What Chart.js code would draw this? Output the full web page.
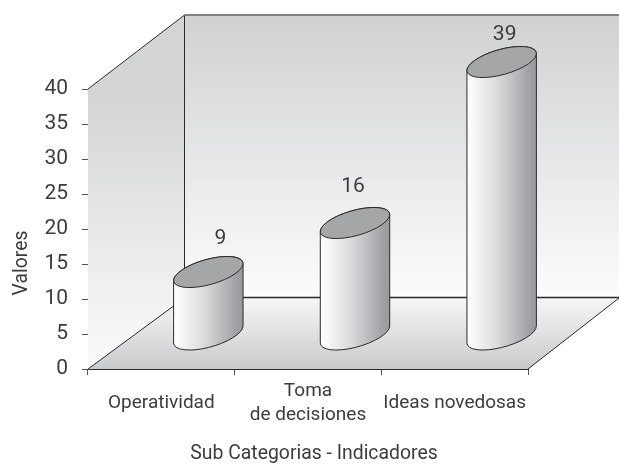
<!DOCTYPE html>
<html><head><meta charset="utf-8">
<style>html,body{margin:0;padding:0;background:#fff}canvas{display:block}</style>
<script src="https://cdn.jsdelivr.net/npm/chart.js@4/dist/chart.umd.js"></script>
</head><body><canvas id="c" width="619" height="464"></canvas>
<script>
const categories = ["Operatividad", ["Toma", "de decisiones"], "Ideas novedosas"];
const values = [9, 16, 39];
const yTicks = [0, 5, 10, 15, 20, 25, 30, 35, 40];
const xTitle = "Sub Categorias - Indicadores";
const yTitle = "Valores";

const FONT = 'Roboto,"Liberation Sans",Arial,sans-serif';
const TXT = '#3c3c3e';
const LINE = '#2a2a2c';

const scene3d = {
  id: 'scene3d',
  beforeDatasetsDraw(chart) {
    const c = chart.ctx, a = chart.chartArea, W = chart.width;
    const bx = a.left + 96.5, topY = 15, floorY = 298;
    c.save();
    let g = c.createLinearGradient(0, topY, 0, floorY);
    g.addColorStop(0, '#d0d1d3'); g.addColorStop(1, '#fcfcfc');
    c.fillStyle = g;
    c.fillRect(bx, topY, W - bx, floorY - topY);
    g = c.createLinearGradient(0, a.top, 0, a.bottom);
    g.addColorStop(0, '#d3d4d6'); g.addColorStop(1, '#fbfbfb');
    c.fillStyle = g;
    c.beginPath(); c.moveTo(a.left, a.top); c.lineTo(bx, topY); c.lineTo(bx, floorY); c.lineTo(a.left, a.bottom); c.closePath(); c.fill();
    g = c.createLinearGradient(0, floorY, 0, a.bottom);
    g.addColorStop(0, '#f7f7f7'); g.addColorStop(1, '#c9cacc');
    c.fillStyle = g;
    c.beginPath(); c.moveTo(a.left, a.bottom); c.lineTo(bx, floorY); c.lineTo(W, floorY); c.lineTo(a.right, a.bottom); c.closePath(); c.fill();
    c.strokeStyle = LINE; c.lineWidth = 1;
    c.beginPath();
    c.moveTo(a.left, a.top); c.lineTo(bx, topY);
    c.moveTo(bx, topY); c.lineTo(bx, floorY);
    c.moveTo(a.left, a.bottom); c.lineTo(bx, floorY);
    c.moveTo(a.right, a.bottom); c.lineTo(W, floorY);
    c.stroke();
    c.lineWidth = 1.5;
    c.beginPath(); c.moveTo(bx, floorY - 0.5); c.lineTo(W, floorY - 0.5); c.stroke();
    c.strokeStyle = '#808082'; c.lineWidth = 2;
    c.beginPath(); c.moveTo(bx, topY); c.lineTo(W, topY); c.stroke();
    c.restore();
  },
  afterDatasetsDraw(chart) {
    const c = chart.ctx, bars = chart.getDatasetMeta(0).data;
    const shiftX = 47, shiftY = -34, phi = -15.7 * Math.PI / 180;
    const nudge = [[12, -33], [-2, -36], [3, -27]];
    c.save();
    bars.forEach((bar, i) => {
      const w = bar.width, cx = bar.x + shiftX, ra = w * 0.513, rb = w * 0.18;
      const yT = bar.y + shiftY, yB = bar.base + shiftY;
      const t0 = Math.atan2(-rb * Math.sin(phi), ra * Math.cos(phi));
      const g = c.createLinearGradient(cx - w / 2, 0, cx + w / 2, 0);
      g.addColorStop(0, '#ffffff'); g.addColorStop(0.12, '#f6f6f7');
      g.addColorStop(0.45, '#d9dadc'); g.addColorStop(0.9, '#a0a1a4'); g.addColorStop(1, '#98999c');
      c.beginPath();
      c.ellipse(cx, yB, ra, rb, phi, t0, t0 + Math.PI, false);
      c.ellipse(cx, yT, ra, rb, phi, t0 + Math.PI, t0 + 2 * Math.PI, false);
      c.closePath();
      c.fillStyle = g; c.fill();
      c.strokeStyle = LINE; c.lineWidth = 1; c.stroke();
      c.beginPath();
      c.ellipse(cx, yT, ra, rb, phi, 0, 2 * Math.PI);
      c.fillStyle = '#a5a6a8'; c.fill(); c.stroke();
      c.fillStyle = TXT; c.font = '21px ' + FONT;
      c.textAlign = 'center'; c.textBaseline = 'middle';
      c.fillText(String(values[i]), cx + nudge[i][0], yT + nudge[i][1]);
    });
    c.fillStyle = TXT; c.font = '19.4px ' + FONT; c.textAlign = 'center'; c.textBaseline = 'middle';
    c.fillText(xTitle, 314, 454);
    c.translate(22, 263); c.rotate(-Math.PI / 2);
    c.fillText(yTitle, 0, 0);
    c.restore();
  }
};

new Chart(document.getElementById('c'), {
  type: 'bar',
  data: { labels: categories, datasets: [{ data: values, backgroundColor: 'rgba(0,0,0,0)', categoryPercentage: 1, barPercentage: 0.477 }] },
  options: {
    responsive: false, animation: false,
    layout: { padding: { top: 89, right: 91, left: 0, bottom: 0 } },
    plugins: { legend: { display: false }, tooltip: { enabled: false } },
    scales: {
      x: {
        afterFit(s) { s.height = 95; },
        grid: { offset: true, drawOnChartArea: false, tickLength: 6, color: '#555557' },
        border: { color: LINE, width: 1 },
        ticks: { color: TXT, font: { family: FONT, size: 19, lineHeight: 1.3 }, padding: 16, maxRotation: 0, autoSkip: false, crossAlign: 'center' }
      },
      y: {
        min: 0, max: 40,
        afterFit(s) { s.width = 88; },
        afterBuildTicks(s) { s.ticks = yTicks.map(v => ({ value: v })); },
        grid: { drawOnChartArea: false, tickLength: 6, color: '#555557' },
        border: { color: '#666668', width: 1 },
        ticks: { color: TXT, font: { family: FONT, size: 21 }, padding: 14 }
      }
    }
  },
  plugins: [scene3d]
});
</script></body></html>
